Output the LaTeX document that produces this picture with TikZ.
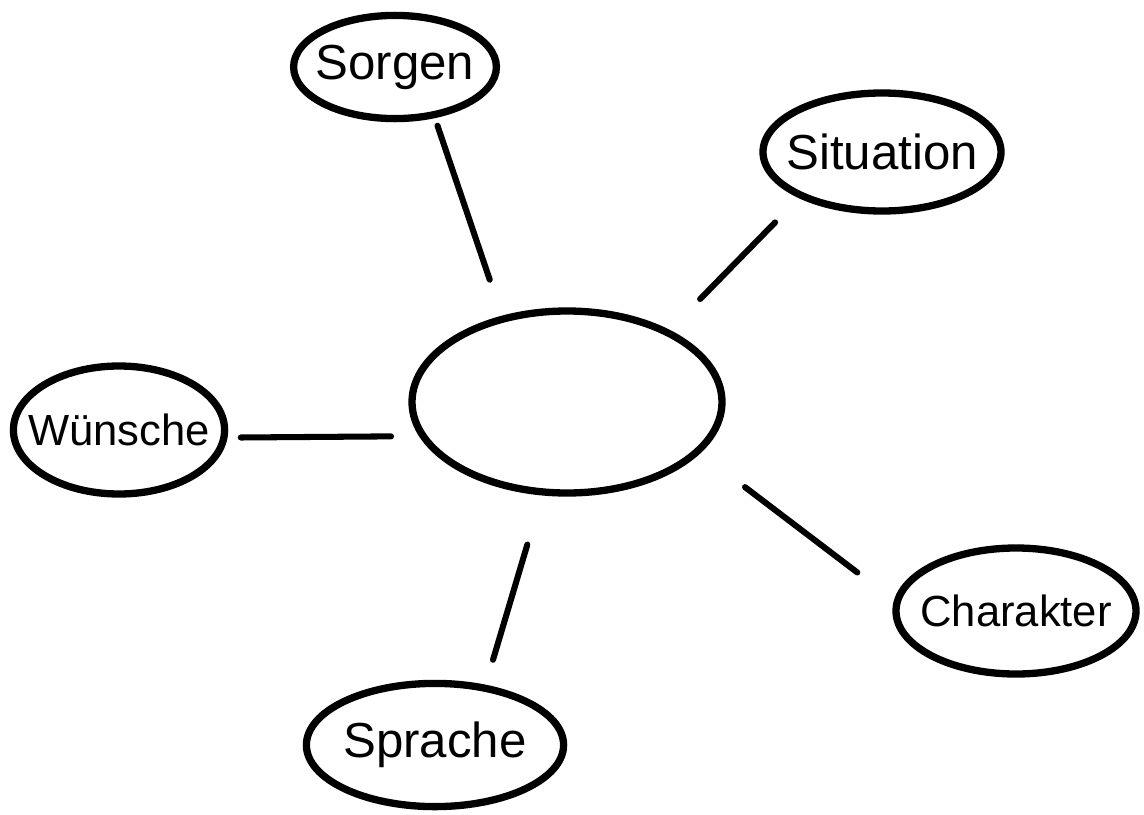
\documentclass[tikz,border=0pt]{standalone}
\usepackage{fontspec}
\setmainfont{Liberation Sans}
\usetikzlibrary{shapes.geometric}
\tikzset{
	bubble/.style={
			draw, ellipse, line width=5.2pt, inner sep=0pt
		},
	every label/.style={
			font=\fontsize{35}{40}\selectfont, inner sep=0pt
		},
	smaller/.style={
			font=\fontsize{31}{36}\selectfont
		},
	link/.style={
			line width=4.3pt, line cap=round
		}
}

\begin{document}
\begin{tikzpicture}
    \useasboundingbox (0,0) rectangle (28.6,-20.375);
    \node[bubble, minimum width=7.75cm, minimum height=4.55cm] (hub) at (14.175, -10.05) {};
    \node[bubble, minimum width=5.07cm, minimum height=2.58cm, label=center:Sorgen] (sorgen) at (9.875, -1.675) {};
    \node[bubble, minimum width=5.95cm, minimum height=2.95cm, label=center:Situation] (situation) at (22.05, -3.8) {};
    \node[bubble, minimum width=5.28cm, minimum height=3.2cm, label={[smaller]center:Wünsche}] (wuensche) at (2.975, -10.75) {};
    \node[bubble, minimum width=6.0cm, minimum height=3.15cm, label={[smaller]center:Charakter}] (charakter) at (25.4, -15.275) {};
    \node[bubble, minimum width=6.43cm, minimum height=3.08cm, label=center:Sprache] (sprache) at (10.875, -18.625) {};
    \draw[link, shorten <=0.2cm, shorten >=0.95cm] (sorgen.-52.5) -- (hub.127);
    \draw[link, shorten <=0.85cm, shorten >=1.08cm] (situation.209) -- (hub.35.4);
    \draw[link, shorten <=0.33cm, shorten >=0.7cm] (wuensche.-4.4) -- (hub.193.3);
    \draw[link, shorten <=1.4cm, shorten >=1.15cm] (hub.-21.5) -- (charakter.175.9);
    \draw[link, shorten <=1.28cm, shorten >=0.65cm] (hub.255.3) -- (sprache.50.5);
\end{tikzpicture}
\end{document}
